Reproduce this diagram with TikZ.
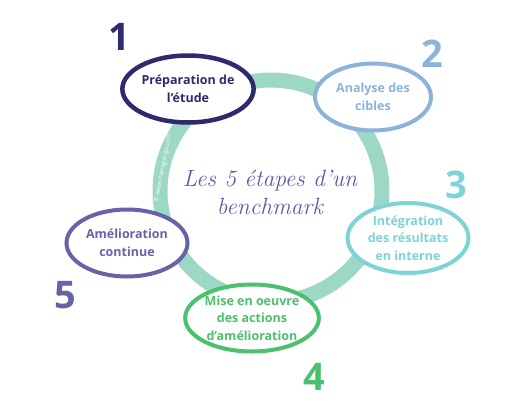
\documentclass[tikz,border=0pt]{standalone}
\usepackage{fontspec}
\setsansfont{Open Sans}
\usetikzlibrary{shapes.geometric}
\definecolor{cnavy}{HTML}{2D2B6D}
\definecolor{cblue}{HTML}{8BB3DB}
\definecolor{ccyan}{HTML}{7ED4D4}
\definecolor{cgreen}{HTML}{4CC06C}
\definecolor{cpurple}{HTML}{6663A8}
\definecolor{cring}{HTML}{9DD7C5}
\definecolor{ctitle}{HTML}{5D5BA3}
\tikzset{
  stepbox/.style={ellipse, draw=#1, line width=4pt, fill=white, minimum width=121pt, minimum height=67pt, inner sep=0pt,
    text=#1, align=center, font=\sffamily\bfseries\fontsize{12.5}{17.5}\selectfont},
  stepnum/.style={text=#1, font=\sffamily\bfseries\fontsize{38}{38}\selectfont, inner sep=0pt},
}
\begin{document}
\begin{tikzpicture}[x=1pt,y=-1pt]
\useasboundingbox (0,0) rectangle (517,402);
\coordinate (c) at (271,191);
\draw[cring, line width=15pt] (c) circle[radius=111];
\node[rotate=79, text=white, font=\sffamily\fontsize{6}{6}\selectfont, inner sep=0pt] (wm) at (163,168) {\textcopyright\ www.manager-go.com};
\node[text=ctitle, align=center, font=\itshape\fontsize{23.5}{28}\selectfont] (title) at (270,192) {Les 5 étapes d’un\\benchmark};
\node[stepbox=cnavy, line width=4.5pt] (s1) at (188,89) {Préparation de\\l’étude};
\node[stepbox=cblue, minimum width=116pt] (s2) at (373,97) {Analyse des\\cibles};
\node[stepbox=ccyan, minimum height=70pt] (s3) at (408,238) {Intégration\\des résultats\\en interne};
\node[stepbox=cgreen] (s4) at (252,318) {Mise en oeuvre\\des actions\\d’amélioration};
\node[stepbox=cpurple] (s5) at (127,243) {Amélioration\\continue};
\node[stepnum=cnavy] (n1) at (119,37) {1};
\node[stepnum=cblue] (n2) at (432,54) {2};
\node[stepnum=ccyan] (n3) at (456,185) {3};
\node[stepnum=cgreen] (n4) at (314,377) {4};
\node[stepnum=cpurple] (n5) at (65,295) {5};
\end{tikzpicture}
\end{document}
